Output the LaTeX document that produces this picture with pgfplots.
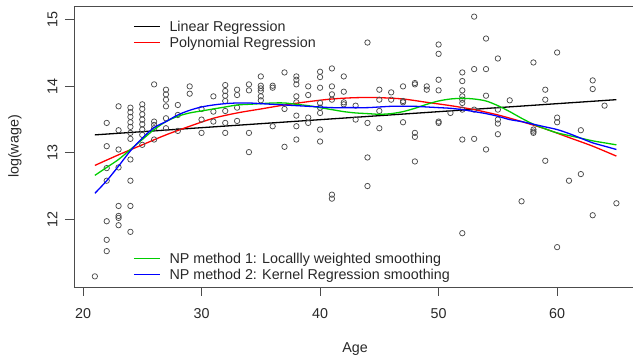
\documentclass[border=0pt]{standalone}
\usepackage{fontspec}
\setmainfont{Liberation Sans}
\usepackage{pgfplots}
\pgfplotsset{compat=1.18}
\usepackage{pgfplotstable}

\definecolor{rgreen}{RGB}{0,205,0}
\definecolor{txt}{RGB}{40,40,40}

\pgfplotstableread{
age lw
21 11.14
22 13.45
22 13.10
22 12.77
22 12.58
22 11.97
22 11.69
22 11.52
23 13.70
23 13.34
23 13.05
23 12.78
23 12.20
23 12.05
23 12.02
23 11.91
24 13.68
24 13.61
24 13.54
24 13.46
24 13.39
24 13.30
24 13.21
24 12.90
24 12.58
24 12.20
24 11.81
25 13.73
25 13.66
25 13.58
25 13.50
25 13.43
25 13.35
25 13.27
25 13.12
26 14.03
26 13.47
26 13.42
26 13.37
26 13.20
27 13.95
27 13.88
27 13.80
27 13.70
27 13.52
27 13.37
28 13.72
28 13.57
28 13.33
29 14.00
29 13.89
30 13.66
30 13.50
30 13.30
31 13.85
31 13.62
31 13.47
32 14.02
32 13.93
32 13.86
32 13.78
32 13.63
32 13.45
32 13.30
33 13.95
33 13.87
33 13.68
33 13.48
34 14.03
34 13.94
34 13.30
34 13.01
35 14.15
35 14.01
35 13.97
35 13.93
35 13.85
35 13.79
36 14.01
36 13.98
36 13.40
37 14.21
37 13.66
37 13.09
38 14.15
38 14.10
38 14.03
38 13.85
38 13.76
38 13.56
38 13.40
38 13.20
39 14.00
39 13.87
39 13.53
39 13.45
40 14.22
40 14.14
40 13.98
40 13.75
40 13.68
40 13.60
40 13.35
40 13.17
41 14.27
41 14.00
41 13.88
41 13.80
41 12.37
41 12.31
42 14.15
42 13.92
42 13.76
42 13.73
43 13.71
43 13.50
44 14.66
44 13.45
44 12.93
44 12.50
45 13.95
45 13.80
45 13.63
45 13.37
46 13.91
46 13.80
47 14.00
47 13.78
47 13.76
47 13.46
48 14.05
48 14.03
48 13.30
48 13.24
48 12.87
49 14.00
49 13.95
50 14.63
50 14.49
50 14.10
50 13.94
50 13.47
50 13.45
51 13.60
52 14.21
52 14.08
52 13.94
52 13.85
52 13.80
52 13.75
52 13.65
52 13.20
52 11.79
53 15.05
53 14.26
53 13.65
53 13.21
54 14.72
54 14.26
54 13.86
54 13.05
55 14.42
55 13.65
55 13.50
55 13.44
55 13.28
56 13.79
57 12.27
58 14.36
58 13.35
58 13.32
58 13.30
59 13.95
59 13.80
59 12.88
60 14.51
60 13.53
60 13.46
60 11.58
61 12.58
62 13.34
62 12.68
63 14.09
63 13.96
63 12.06
64 13.71
65 12.24
}\scatterdata

\pgfplotstableread{
age lin
21 13.27
65 13.80
}\lineardata

\pgfplotstableread{
age poly
21 12.81
23 12.97
25 13.12
27 13.27
29 13.40
31 13.52
33 13.60
35 13.66
37 13.72
39 13.77
41 13.81
43 13.83
45 13.83
47 13.81
49 13.76
51 13.71
53 13.65
55 13.57
57 13.47
59 13.36
61 13.23
63 13.10
65 12.95
}\polydata

\pgfplotstableread{
age lo
21 12.66
22 12.78
23 12.90
24 13.05
25 13.20
26 13.35
27 13.47
28 13.55
29 13.60
30 13.63
31 13.66
32 13.69
33 13.72
34 13.73
35 13.74
36 13.75
37 13.75
38 13.73
39 13.71
40 13.68
41 13.65
42 13.62
43 13.60
44 13.59
45 13.58
46 13.59
47 13.62
48 13.67
49 13.73
50 13.78
51 13.81
52 13.82
53 13.81
54 13.78
55 13.71
56 13.62
57 13.52
58 13.43
59 13.36
60 13.30
61 13.26
62 13.22
63 13.18
64 13.15
65 13.12
}\loessdata

\pgfplotstableread{
age ks
21 12.39
22 12.58
23 12.80
24 13.03
25 13.22
26 13.38
27 13.47
28 13.57
29 13.64
30 13.69
31 13.72
32 13.74
33 13.75
34 13.75
35 13.74
36 13.73
37 13.72
38 13.71
39 13.70
40 13.69
41 13.68
42 13.68
43 13.68
44 13.68
45 13.69
46 13.70
47 13.70
48 13.70
49 13.69
50 13.68
51 13.67
52 13.65
53 13.62
54 13.59
55 13.55
56 13.50
57 13.47
58 13.43
59 13.39
60 13.35
61 13.29
62 13.22
63 13.15
64 13.10
65 13.05
}\kerneldata

\begin{document}
\begin{tikzpicture}[font=\fontsize{14.3}{17}\selectfont, text=txt]
\path[use as bounding box] (-74pt,-69pt) rectangle (559pt,287pt);
\begin{axis}[
  scale only axis, width=559pt, height=281pt,
  xmin=19.24, xmax=66.40, ymin=10.98, ymax=15.21,
  legend cell align=left,
  legend image code/.code={\draw[#1, line width=1.4pt] (0pt,0pt) -- (26pt,0pt); \path (33pt,0pt);},
  axis x line*=bottom, axis y line*=left,
  axis line style={black!70, line width=0.9pt},
  tick style={black!70, line width=0.9pt},
  tick align=outside, major tick length=9pt,
  xtick={20,30,40,50,60}, ytick={12,13,14,15},
  /pgf/number format/assume math mode=true,
  xticklabel style={yshift=-9pt},
  yticklabel style={xshift=-4pt, rotate=90, anchor=south},
  xlabel={Age}, ylabel={log(wage)},
  x label style={at={(axis description cs:0.5027,0)}, anchor=north, yshift=-52pt},
  y label style={at={(axis description cs:-0.1055,0.5)}, anchor=center},
  legend style={draw=none, fill=none, at={(axis description cs:0.1055, 0.955)}, anchor=north west, row sep=0pt, inner sep=0pt},
  after end axis/.code={\draw[black!70, line width=0.9pt] (rel axis cs:0,1) -- (rel axis cs:1,1);},
]
\addplot[only marks, mark=o, mark size=2.7pt, mark options={black!70, line width=0.75pt}, forget plot] table[x=age, y=lw] {\scatterdata};
\addplot[black, line width=1.3pt] table[x=age, y=lin] {\lineardata};
\addlegendentry{Linear Regression}
\addplot[red, line width=1.3pt, smooth] table[x=age, y=poly] {\polydata};
\addlegendentry{Polynomial Regression}
\end{axis}
\begin{axis}[
  scale only axis, width=559pt, height=281pt,
  xmin=19.24, xmax=66.40, ymin=10.98, ymax=15.21,
  hide axis,
  legend cell align=left,
  legend image code/.code={\draw[#1, line width=1.4pt] (0pt,0pt) -- (26pt,0pt); \path (33pt,0pt);},
  legend style={draw=none, fill=none, at={(axis description cs:0.1055,0.015)}, anchor=south west, row sep=0pt, inner sep=0pt},
]
\addplot[rgreen, line width=1.3pt, smooth] table[x=age, y=lo] {\loessdata};
\addlegendentry{NP method 1: Locallly weighted smoothing}
\addplot[blue, line width=1.3pt, smooth] table[x=age, y=ks] {\kerneldata};
\addlegendentry{NP method 2: Kernel Regression smoothing}
\end{axis}
\end{tikzpicture}
\end{document}
